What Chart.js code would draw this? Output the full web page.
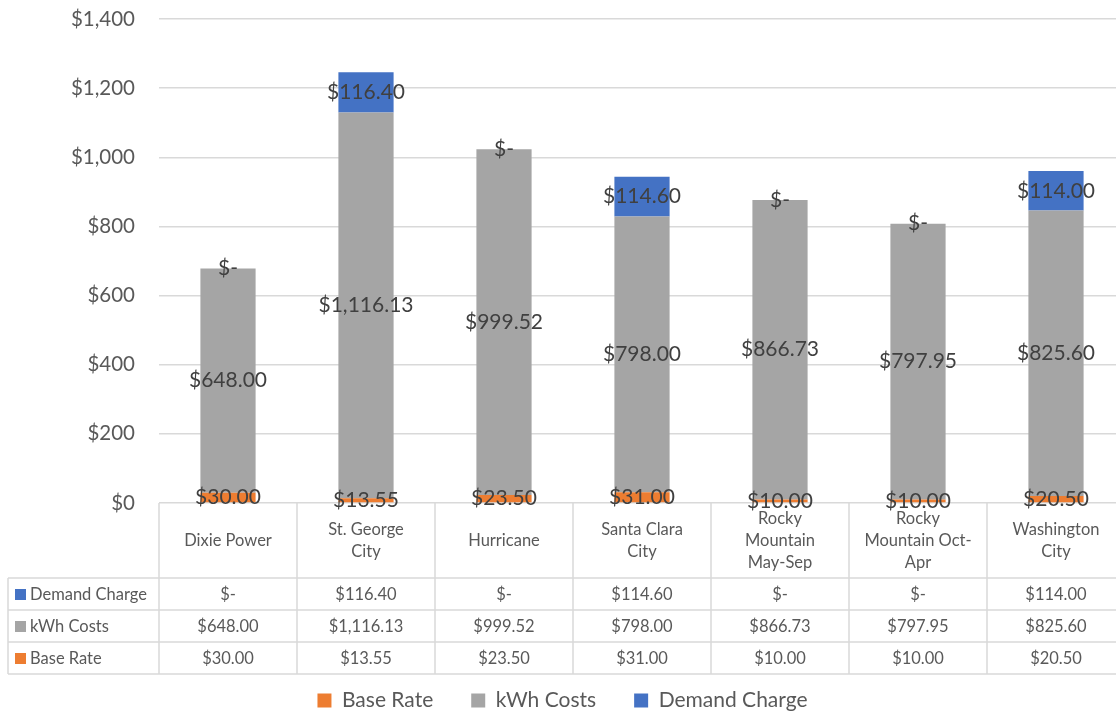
<!DOCTYPE html>
<html>
<head>
<meta charset="utf-8">
<script src="https://cdn.jsdelivr.net/npm/chart.js@4.4.1/dist/chart.umd.min.js"></script>
<style>
html, body { margin: 0; padding: 0; background: #fff; overflow: hidden; }
#wrap { width: 1126px; height: 713px; }
</style>
</head>
<body>
<div id="wrap"><canvas id="costChart"></canvas></div>
<script>
const providers = [["Dixie Power"], ["St. George", "City"], ["Hurricane"], ["Santa Clara", "City"], ["Rocky", "Mountain", "May-Sep"], ["Rocky", "Mountain Oct-", "Apr"], ["Washington", "City"]];
const baseRate = [30.00, 13.55, 23.50, 31.00, 10.00, 10.00, 20.50];
const kwhCosts = [648.00, 1116.13, 999.52, 798.00, 866.73, 797.95, 825.60];
const demandCharge = [0, 116.40, 0, 114.60, 0, 0, 114.00];

const FONT = "Lato, 'Open Sans', sans-serif";
const money = v => v === 0 ? "$-" : "$" + v.toLocaleString("en-US", {minimumFractionDigits: 2, maximumFractionDigits: 2});

// labels in the middle of every stacked piece
const barLabels = {
    id: "barLabels",
    afterDraw(chart) {
        const ctx = chart.ctx;
        ctx.save();
        ctx.font = "21px " + FONT;
        ctx.fillStyle = "#404040";
        ctx.textAlign = "center";
        ctx.textBaseline = "middle";
        chart.data.datasets.forEach((ds, i) => {
            chart.getDatasetMeta(i).data.forEach((bar, j) => {
                ctx.fillText(money(ds.data[j]), bar.x, (bar.y + bar.base) / 2);
            });
        });
        ctx.restore();
    }
};

// excel style data table under the plot
const dataTable = {
    id: "dataTable",
    afterDatasetsDraw(chart) {
        const {ctx, chartArea, scales: {x}} = chart;
        const n = chart.data.labels.length;
        const top = chartArea.bottom;
        const headH = 75, rowH = 32;
        const rows = chart.data.datasets.slice().reverse();
        const bottom = top + headH + rowH * rows.length;
        const half = (x.getPixelForValue(1) - x.getPixelForValue(0)) / 2;
        const left = 8;
        const right = x.getPixelForValue(n - 1) + half;

        ctx.save();
        ctx.strokeStyle = "#d9d9d9";
        ctx.lineWidth = 1.5;
        const line = (x1, y1, x2, y2) => { ctx.beginPath(); ctx.moveTo(x1, y1); ctx.lineTo(x2, y2); ctx.stroke(); };

        for (let i = 0; i <= n; i++) {
            const px = i < n ? x.getPixelForValue(i) - half : right;
            line(px, top, px, bottom);
        }
        line(left, top + headH, left, bottom);
        for (let r = 0; r <= rows.length; r++) {
            const py = top + headH + r * rowH;
            line(left, py, right, py);
        }

        ctx.fillStyle = "#595959";
        ctx.font = "16.5px " + FONT;
        ctx.textAlign = "center";
        ctx.textBaseline = "middle";
        chart.data.labels.forEach((lab, i) => {
            const lines = Array.isArray(lab) ? lab : [lab];
            const cx = x.getPixelForValue(i);
            const lh = 22;
            const y0 = top + headH / 2 - (lines.length - 1) * lh / 2;
            lines.forEach((t, k) => ctx.fillText(t, cx, y0 + k * lh));
        });

        rows.forEach((ds, r) => {
            const cy = top + headH + r * rowH + rowH / 2;
            ctx.fillStyle = ds.backgroundColor;
            ctx.fillRect(15, cy - 5, 11, 11);
            ctx.fillStyle = "#595959";
            ctx.textAlign = "left";
            ctx.fillText(ds.label, 30, cy + 1);
            ctx.textAlign = "center";
            ds.data.forEach((v, i) => ctx.fillText(money(v), x.getPixelForValue(i), cy + 1));
        });
        ctx.restore();
    }
};

new Chart(document.getElementById("costChart"), {
    type: "bar",
    data: {
        labels: providers,
        datasets: [
            { label: "Base Rate", data: baseRate, backgroundColor: "#ED7D31" },
            { label: "kWh Costs", data: kwhCosts, backgroundColor: "#A5A5A5" },
            { label: "Demand Charge", data: demandCharge, backgroundColor: "#4472C4" }
        ]
    },
    options: {
        responsive: true,
        maintainAspectRatio: false,
        animation: false,
        layout: { padding: { top: 19, right: 1, left: 0, bottom: -8 } },
        datasets: { bar: { barPercentage: 0.4, categoryPercentage: 1 } },
        scales: {
            x: {
                stacked: true,
                grid: { display: false },
                border: { display: false },
                ticks: { display: false },
                afterFit(scale) { scale.height = 149; }
            },
            y: {
                stacked: true,
                min: 0,
                max: 1400,
                ticks: {
                    stepSize: 200,
                    padding: 24,
                    color: "#595959",
                    font: { family: FONT, size: 20.5 },
                    callback: v => "$" + v.toLocaleString("en-US")
                },
                grid: { color: "#d9d9d9", lineWidth: 1.5, drawTicks: false },
                border: { display: false },
                afterFit(scale) {
                    scale.width = 159;
                    scale.paddingTop = 0;
                    scale.paddingBottom = 0;
                }
            }
        },
        plugins: {
            tooltip: { enabled: false },
            legend: {
                position: "bottom",
                labels: {
                    color: "#595959",
                    font: { family: FONT, size: 21 },
                    boxWidth: 14,
                    boxHeight: 14,
                    padding: 38
                }
            }
        }
    },
    plugins: [dataTable, barLabels]
});
</script>
</body>
</html>
